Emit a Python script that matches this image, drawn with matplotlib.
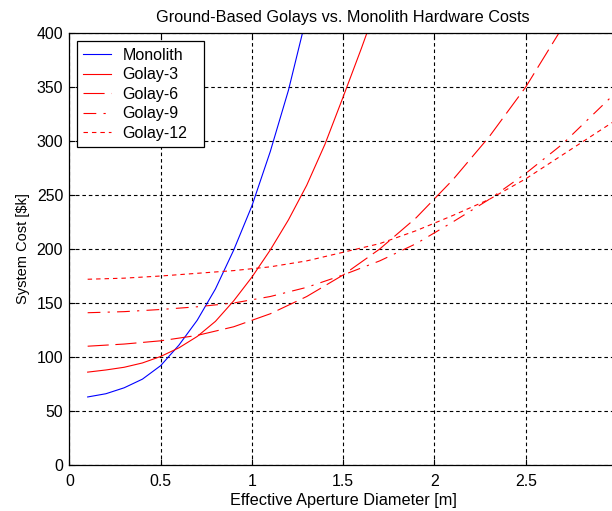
import matplotlib
matplotlib.use("Agg")
import matplotlib.pyplot as plt

# values (diameter in m, cost in $k)
mono_d = [0.1, 0.2, 0.3, 0.4, 0.5, 0.6, 0.7, 0.8, 0.9, 1.0, 1.1, 1.2, 1.3]
mono_c = [63, 66, 71.5, 79.5, 92, 111, 134, 163, 199, 240, 290, 347, 416]

g3_d = [0.1, 0.2, 0.3, 0.4, 0.5, 0.6, 0.7, 0.8, 0.9, 1.0, 1.1, 1.2, 1.3, 1.4, 1.5, 1.6, 1.7]
g3_c = [86, 88, 90.5, 94.5, 100.5, 108.5, 119, 133, 152, 174, 199, 227, 259, 297, 341, 386, 433]

g6_d = [0.1, 0.3, 0.5, 0.7, 0.9, 1.1, 1.3, 1.5, 1.7, 1.9, 2.1, 2.3, 2.5, 2.7]
g6_c = [110, 112, 115, 120, 128, 140, 156, 176, 200, 229, 264, 304, 350, 405]

g9_d = [0.1, 0.3, 0.5, 0.7, 0.9, 1.1, 1.3, 1.5, 1.7, 1.9, 2.1, 2.3, 2.5, 2.7, 3.0]
g9_c = [141, 142, 144, 146.5, 150, 156, 164.5, 176, 189, 205, 225, 246, 270, 297, 346]

g12_d = [0.1, 0.3, 0.5, 0.7, 0.9, 1.1, 1.3, 1.5, 1.7, 1.9, 2.1, 2.3, 2.5, 2.7, 3.0]
g12_c = [172, 173, 175, 177.5, 180, 183.5, 189, 197, 205, 217, 231, 246, 265, 287, 320]

xticks = [0, 0.5, 1, 1.5, 2, 2.5, 3]
xticklabels = ["0", "0.5", "1", "1.5", "2", "2.5", ""]
yticks = [0, 50, 100, 150, 200, 250, 300, 350, 400]

plt.rcParams["font.family"] = ["Liberation Sans", "DejaVu Sans"]
plt.rcParams["font.size"] = 11.4

fig = plt.figure(figsize=(6.12, 5.11), dpi=100)
# right edge of the axes (x = 3) falls just outside the picture, as in the reference
ax = fig.add_axes([0.1134, 0.090, 0.8948, 0.8454])

lw = 0.8
ax.plot(mono_d, mono_c, color="#0000ff", lw=lw, label="Monolith")
ax.plot(g3_d, g3_c, color="#ff0000", lw=lw, label="Golay-3")
ax.plot(g6_d, g6_c, color="#ff0000", lw=lw, dashes=(19, 6), label="Golay-6")
ax.plot(g9_d, g9_c, color="#ff0000", lw=lw, dashes=(11.5, 6.5, 2, 6.5), label="Golay-9")
ax.plot(g12_d, g12_c, color="#ff0000", lw=lw, dashes=(4, 3.6), label="Golay-12")

ax.set_xlim(0, 3)
ax.set_ylim(0, 400)
ax.set_xticks(xticks)
ax.set_xticklabels(xticklabels)
ax.set_yticks(yticks)
ax.grid(True, color="black", linestyle=(0, (3.2, 2.6)), linewidth=0.8)
ax.tick_params(direction="in", length=4, top=True, right=False)
ax.tick_params(axis="x", pad=6.5)
ax.tick_params(axis="y", pad=4.5)
ax.spines["right"].set_visible(False)
for s in ["top", "left", "bottom"]:
    ax.spines[s].set_linewidth(0.9)

ax.set_title("Ground-Based Golays vs. Monolith Hardware Costs", fontsize=11.7, pad=7.6)
ax.set_xlabel("Effective Aperture Diameter [m]", fontsize=11.7, labelpad=3)
ax.set_ylabel("System Cost [$k]", fontsize=10.5, labelpad=5)

leg = ax.legend(loc="upper left", bbox_to_anchor=(0.0133, 0.5, 0.2325, 0.4815), mode="expand",
                borderaxespad=0, fontsize=11.5, fancybox=False, framealpha=1, edgecolor="black",
                handlelength=1.75, handletextpad=0.69, labelspacing=0.28, borderpad=0.42)
leg.get_frame().set_linewidth(0.9)

fig.savefig("out.png", dpi=100)
